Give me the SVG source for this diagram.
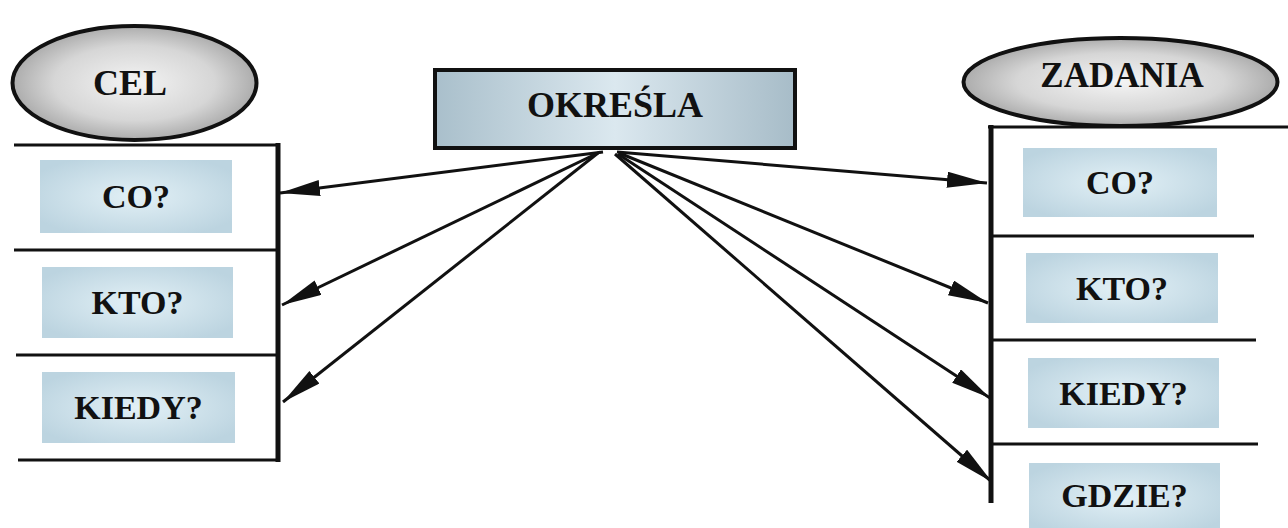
<svg xmlns="http://www.w3.org/2000/svg" width="1288" height="528" viewBox="0 0 1288 528">
<defs>
<radialGradient id="gGray" cx="50%" cy="50%" r="55%">
<stop offset="0" stop-color="#f4f4f4"/>
<stop offset="0.6" stop-color="#d6d6d6"/>
<stop offset="1" stop-color="#a0a0a0"/>
</radialGradient>
<radialGradient id="gBlue" cx="50%" cy="50%" r="60%">
<stop offset="0" stop-color="#e2f0f6"/>
<stop offset="1" stop-color="#bcd4e0"/>
</radialGradient>
<linearGradient id="gHead" x1="0" y1="0" x2="1" y2="0">
<stop offset="0" stop-color="#a9bfcb"/>
<stop offset="0.5" stop-color="#dbe8ef"/>
<stop offset="1" stop-color="#a7bcc8"/>
</linearGradient>
<marker id="arr" markerUnits="userSpaceOnUse" markerWidth="42" markerHeight="18" refX="40" refY="8" orient="auto">
<path d="M0,0 L40,8 L0,16 Z" fill="#111"/>
</marker>
<style>
.lbl{font-family:"Liberation Serif","Times New Roman",serif;font-weight:bold;fill:#111;text-anchor:middle;}
.box{fill:url(#gBlue);}
.ell{fill:url(#gGray);stroke:#111;stroke-width:4;}
.pl{stroke:#111;stroke-width:3;fill:none;}
.pv{stroke:#111;stroke-width:5;fill:none;}
.con{stroke:#111;stroke-width:3;fill:none;marker-end:url(#arr);}
</style>
</defs>

<g id="connectors">
<line class="con" x1="603" y1="152" x2="280" y2="193"/>
<line class="con" x1="600" y1="152" x2="282" y2="305"/>
<line class="con" x1="598" y1="153" x2="283" y2="402"/>
<line class="con" x1="617" y1="152" x2="987" y2="183"/>
<line class="con" x1="619" y1="153" x2="988" y2="303"/>
<line class="con" x1="618" y1="154" x2="990" y2="398"/>
<line class="con" x1="615" y1="154" x2="992" y2="482"/>
</g>

<g id="cel-panel">
<line class="pl" x1="14" y1="145" x2="280" y2="145"/>
<line class="pl" x1="14" y1="250" x2="278" y2="250"/>
<line class="pl" x1="16" y1="355" x2="278" y2="355"/>
<line class="pl" x1="18" y1="460" x2="280" y2="460"/>
<line class="pv" x1="278" y1="143" x2="278" y2="462"/>
</g>
<g id="cel">
<ellipse class="ell" cx="134.5" cy="83" rx="122" ry="57"/>
<text class="lbl" x="130" y="95" font-size="36">CEL</text>
</g>
<g id="cel-co">
<rect class="box" x="40" y="160" width="192" height="73"/>
<text class="lbl" x="136" y="208" font-size="34">CO?</text>
</g>
<g id="cel-kto">
<rect class="box" x="42" y="267" width="191" height="71"/>
<text class="lbl" x="137.5" y="314" font-size="34">KTO?</text>
</g>
<g id="cel-kiedy">
<rect class="box" x="42" y="372" width="193" height="71"/>
<text class="lbl" x="138.5" y="419" font-size="34">KIEDY?</text>
</g>

<g id="okresla">
<rect x="435" y="70" width="360" height="78" fill="url(#gHead)" stroke="#111" stroke-width="4"/>
<text class="lbl" x="615" y="117" font-size="36">OKREŚLA</text>
</g>

<g id="zadania-panel">
<line class="pl" x1="988" y1="127" x2="1288" y2="127"/>
<line class="pl" x1="992" y1="236" x2="1254" y2="236"/>
<line class="pl" x1="992" y1="340" x2="1256" y2="340"/>
<line class="pl" x1="992" y1="444" x2="1258" y2="444"/>
<line class="pv" x1="991" y1="125" x2="991" y2="503"/>
</g>
<g id="zadania">
<ellipse class="ell" cx="1120.5" cy="82" rx="157" ry="44"/>
<text class="lbl" x="1122" y="87" font-size="35">ZADANIA</text>
</g>
<g id="zad-co">
<rect class="box" x="1023" y="148" width="194" height="69"/>
<text class="lbl" x="1120" y="194" font-size="34">CO?</text>
</g>
<g id="zad-kto">
<rect class="box" x="1026" y="253" width="192" height="70"/>
<text class="lbl" x="1122" y="300" font-size="34">KTO?</text>
</g>
<g id="zad-kiedy">
<rect class="box" x="1028" y="358" width="191" height="70"/>
<text class="lbl" x="1123.5" y="405" font-size="34">KIEDY?</text>
</g>
<g id="zad-gdzie">
<rect class="box" x="1029" y="463" width="191" height="70"/>
<text class="lbl" x="1124.5" y="507" font-size="34">GDZIE?</text>
</g>
</svg>
